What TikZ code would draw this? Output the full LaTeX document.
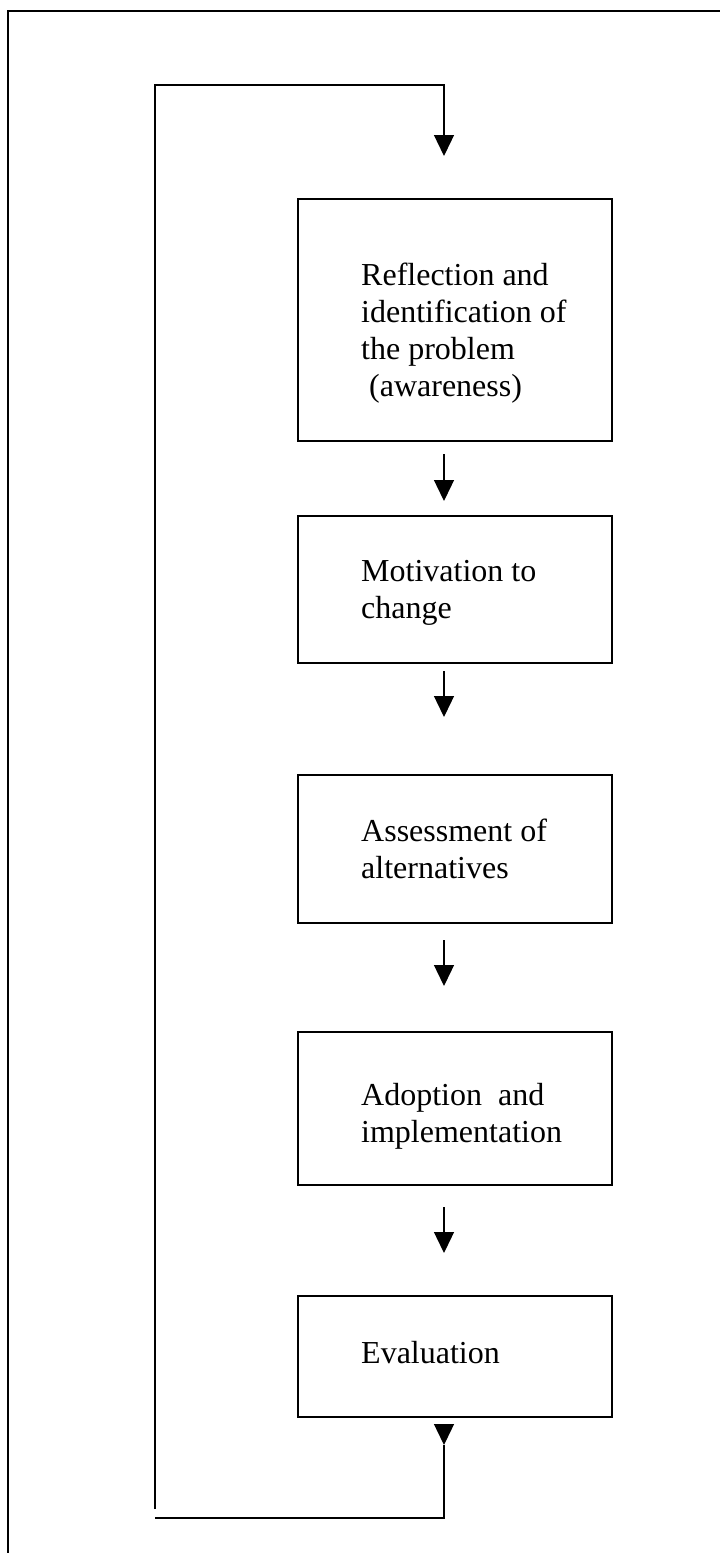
\documentclass[tikz,border=0pt]{standalone}
\usepackage{fontspec}
\setmainfont{Liberation Serif}
\usetikzlibrary{arrows.meta}
\begin{document}
\begin{tikzpicture}[x=1pt,y=-1pt,
  stagebox/.style={draw, line width=2pt, inner sep=0pt, minimum width=314pt},
  label/.style={anchor=base west, inner sep=0pt, align=left, font=\fontsize{32}{37}\selectfont},
  conn/.style={line width=1.3pt},
  arr/.style={conn, -{Triangle[width=20pt,length=21pt]}}]
\useasboundingbox (0,0) rectangle (720,1553);
% frame (only left and top edges visible)
\coordinate (fbl) at (8,1553);
\coordinate (ftl) at (8,11);
\coordinate (ftr) at (720,11);
\draw[line width=1.5pt] (fbl) -- (ftl) -- (ftr);
% boxes
\node[stagebox, minimum height=242pt] (b1) at (455,320) {};
\node[stagebox, minimum height=147pt] (b2) at (455,589.5) {};
\node[stagebox, minimum height=148pt] (b3) at (455,849) {};
\node[stagebox, minimum height=153pt] (b4) at (455,1108.5) {};
\node[stagebox, minimum height=121pt] (b5) at (455,1356.5) {};
% texts (anchored at the baseline of the last line)
\node[label] (t1) at (361,396) {Reflection and\\identification of\\the problem\\\hspace*{0.25em}(awareness)};
\node[label] (t2) at (361,618) {Motivation to\\change};
\node[label] (t3) at (361,878) {Assessment of\\alternatives};
\node[label] (t4) at (361,1142) {Adoption\ \ and\\implementation};
\node[label] (t5) at (361,1363) {Evaluation};
% arrow column
\coordinate (ax) at (444,0);
% arrows between boxes
\draw[arr, shorten <=12pt, shorten >=14pt] (b1.south -| ax) -- (b2.north -| ax);
\draw[arr, shorten <=7pt, shorten >=57pt] (b2.south -| ax) -- (b3.north -| ax);
\draw[arr, shorten <=16pt, shorten >=45pt] (b3.south -| ax) -- (b4.north -| ax);
\draw[arr, shorten <=21pt, shorten >=42pt] (b4.south -| ax) -- (b5.north -| ax);
% feedback loop
\coordinate (lbl) at (155,1509);
\coordinate (ltl) at (155,85);
\coordinate (ltr) at (444,85);
\coordinate (tipb) at (444,1445);
\coordinate (lbr) at (444,1518);
\coordinate (lbe) at (155,1518);
\draw[arr, shorten >=42pt] (lbl) -- (ltl) -- (ltr) -- (b1.north -| ax);
\draw[arr, shorten <=6pt] (b5.south -| ax) -- (tipb);
\draw[conn] (tipb) -- (lbr) -- (lbe);
\end{tikzpicture}
\end{document}
